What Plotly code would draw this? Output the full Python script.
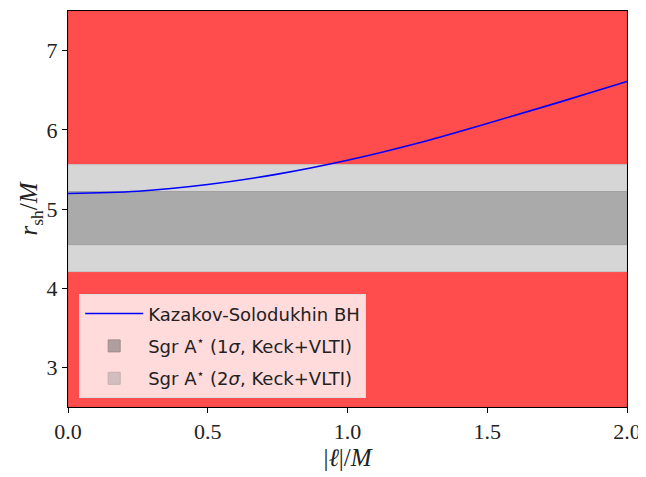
import plotly.graph_objects as go

# Data
ell = [0.0, 0.25, 0.5, 0.75, 1.0, 1.25, 1.5, 1.75, 2.0]
r_sh = [5.196, 5.225, 5.31, 5.44, 5.615, 5.83, 6.08, 6.34, 6.61]

sigma1 = [4.55, 5.22]
sigma2 = [4.21, 5.56]
x_range = [0.0, 2.0]
y_range = [2.5, 7.5]
x_ticks = [0.0, 0.5, 1.0, 1.5, 2.0]
x_ticklabels = ["0.0", "0.5", "1.0", "1.5", "2.0"]
y_ticks = [3, 4, 5, 6, 7]

RED = "#ff4c4c"

def band(lo, hi):
    return ([x_range[0], x_range[1], x_range[1], x_range[0], x_range[0]],
            [lo, lo, hi, hi, lo])

fig = go.Figure()

# red excluded regions
for lo, hi in [(y_range[0], sigma2[0]), (sigma2[1], y_range[1])]:
    bx, by = band(lo, hi)
    fig.add_trace(go.Scatter(x=bx, y=by, fill="toself", fillcolor=RED,
                             line=dict(color="#e84545", width=1), mode="lines",
                             showlegend=False, hoverinfo="skip"))

# 2 sigma band
bx, by = band(*sigma2)
fig.add_trace(go.Scatter(x=bx, y=by, fill="toself", fillcolor="#d6d6d6",
                         line=dict(color="#c8c8c8", width=1), mode="lines",
                         showlegend=False, hoverinfo="skip"))
# 1 sigma band
bx, by = band(*sigma1)
fig.add_trace(go.Scatter(x=bx, y=by, fill="toself", fillcolor="#aaaaaa",
                         line=dict(color="#a0a0a0", width=1), mode="lines",
                         showlegend=False, hoverinfo="skip"))

# curve
fig.add_trace(go.Scatter(x=ell, y=r_sh, mode="lines", line=dict(color="blue", width=1.6, shape="spline"),
                         name="Kazakov-Solodukhin BH", legendgroup="a"))

# legend-only entries for bands
fig.add_trace(go.Bar(x=[None], y=[None], marker=dict(color="rgba(176,158,158,1)",
                                                     line=dict(color="rgba(160,140,140,1)", width=1)),
                     name="Sgr A<sup>⋆</sup> (1<i>σ</i>, Keck+VLTI)", legendgroup="b"))
fig.add_trace(go.Bar(x=[None], y=[None], marker=dict(color="rgba(210,190,190,1)",
                                                     line=dict(color="rgba(195,175,175,1)", width=1)),
                     name="Sgr A<sup>⋆</sup> (2<i>σ</i>, Keck+VLTI)", legendgroup="c"))

serif = "Liberation Serif, DejaVu Serif, serif"
axis_common = dict(showgrid=False, zeroline=False, showline=True, linecolor="black",
                   linewidth=1, mirror=True, ticks="outside", ticklen=5, tickcolor="black",
                   automargin=False,
                   tickfont=dict(family=serif, size=22, color="#222"))

fig.update_layout(
    width=646, height=477,
    margin=dict(l=60, r=27, t=3, b=78),
    paper_bgcolor="white", plot_bgcolor="white",
    xaxis=dict(range=x_range, tickvals=x_ticks, ticktext=x_ticklabels,
               title=dict(text="|<i>ℓ</i>|/<i>M</i>", standoff=4,
                          font=dict(family=serif, size=25, color="#222")),
               **axis_common),
    yaxis=dict(range=y_range, tickvals=y_ticks,
               title=dict(text="<i>r</i><sub>sh</sub>/<i>M</i>", standoff=0,
                          font=dict(family=serif, size=25, color="#222")),
               **axis_common),
    legend=dict(x=0.02, y=0.022, xanchor="left", yanchor="bottom",
                bgcolor="rgba(255,255,255,0.8)", bordercolor="#dddddd", borderwidth=1,
                font=dict(family="DejaVu Sans, sans-serif", size=18, color="#222"),
                itemwidth=58, tracegroupgap=6, traceorder="grouped"),
    showlegend=True,
)

fig.write_html("out.html")
